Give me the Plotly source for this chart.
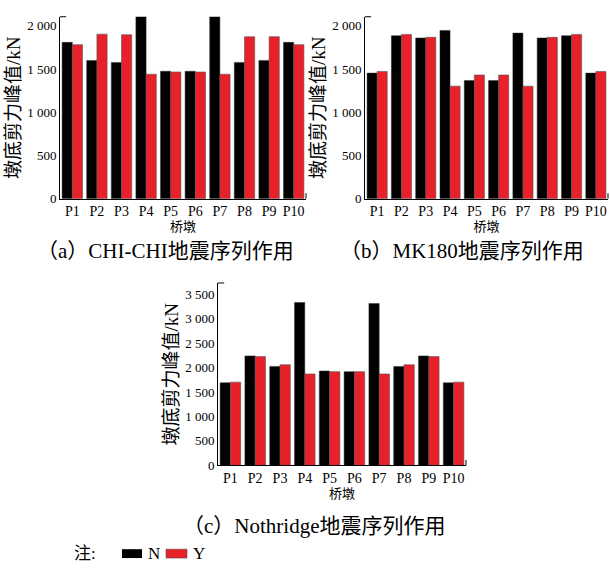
import plotly.graph_objects as go

piers = ["P1", "P2", "P3", "P4", "P5", "P6", "P7", "P8", "P9", "P10"]
series_names = ["N", "Y"]

# (a) CHI-CHI sequence (P4, P7 N bars run off the top of the axis)
chi_N = [1809, 1600, 1577, 2300, 1474, 1474, 2300, 1577, 1600, 1809]
chi_Y = [1782, 1904, 1897, 1440, 1466, 1466, 1440, 1874, 1874, 1782]
# (b) MK180 sequence
mk_N = [1453, 1886, 1860, 1947, 1366, 1366, 1916, 1860, 1886, 1453]
mk_Y = [1472, 1901, 1867, 1302, 1431, 1431, 1302, 1867, 1901, 1472]
# (c) Nothridge sequence
nor_N = [1689, 2239, 2024, 3331, 1930, 1917, 3311, 2024, 2239, 1689]
nor_Y = [1702, 2225, 2058, 1870, 1917, 1917, 1870, 2058, 2225, 1702]

ab_tickvals = [0, 500, 1000, 1500, 2000]
ab_ticktext = ["0", "500", "1 000", "1 500", "2 000"]
c_tickvals = [0, 500, 1000, 1500, 2000, 2500, 3000, 3500]
c_ticktext = ["0", "500", "1 000", "1 500", "2 000", "2 500", "3 000", "3 500"]

titles = ["（a）CHI-CHI地震序列作用", "（b）MK180地震序列作用", "（c）Nothridge地震序列作用"]
xlabel = "桥墩"
ylabel = "墩底剪力峰值/kN"
note = "注:"

FONT = "Liberation Serif, Noto Sans CJK SC, serif"
BLACK = "#000000"
RED = "#e8202a"
W, H = 610, 570

panels = [
    dict(N=chi_N, Y=chi_Y, xd=[60 / W, 306 / W], yd=[1 - 201.5 / H, 1 - 17 / H],
         rng=[0, 2105], tv=ab_tickvals, tt=ab_ticktext),
    dict(N=mk_N, Y=mk_Y, xd=[365 / W, 608 / W], yd=[1 - 201.5 / H, 1 - 17 / H],
         rng=[0, 2105], tv=ab_tickvals, tt=ab_ticktext),
    dict(N=nor_N, Y=nor_Y, xd=[218 / W, 466 / W], yd=[1 - 472 / H, 1 - 287 / H],
         rng=[0, 3730], tv=c_tickvals, tt=c_ticktext),
]

fig = go.Figure()
layout = {}
shapes = []
for i, p in enumerate(panels):
    sfx = "" if i == 0 else str(i + 1)
    xa, ya = "x" + sfx, "y" + sfx
    fig.add_trace(go.Bar(x=piers, y=p["N"], name=series_names[0], xaxis=xa, yaxis=ya,
                         marker=dict(color=BLACK, line=dict(color="#333", width=0.5))))
    fig.add_trace(go.Bar(x=piers, y=p["Y"], name=series_names[1], xaxis=xa, yaxis=ya,
                         marker=dict(color=RED, line=dict(color="#555", width=0.6))))
    layout["xaxis" + sfx] = dict(
        domain=p["xd"], anchor=ya, showline=True, linecolor=BLACK, linewidth=1,
        ticks="", showgrid=False, zeroline=False,
        tickfont=dict(family=FONT, size=14, color=BLACK),
        title=dict(text=xlabel, font=dict(family=FONT, size=13, color=BLACK), standoff=3),
    )
    layout["yaxis" + sfx] = dict(
        domain=p["yd"], anchor=xa, range=p["rng"], showline=True, linecolor=BLACK,
        linewidth=1, ticks="", showgrid=False, zeroline=False,
        tickvals=p["tv"], ticktext=p["tt"],
        tickfont=dict(family=FONT, size=13, color=BLACK),
        title=dict(text=ylabel, font=dict(family=FONT, size=19, color=BLACK), standoff=1),
    )
    # corner stubs of the frame
    shapes.append(dict(type="line", xref=xa + " domain", yref=ya + " domain",
                       x0=0, x1=0.025, y0=1, y1=1, line=dict(color=BLACK, width=1)))
    shapes.append(dict(type="line", xref=xa + " domain", yref=ya + " domain",
                       x0=1, x1=1, y0=0, y1=0.03, line=dict(color=BLACK, width=1)))

annotations = [
    dict(text=titles[0], x=165 / W, y=1 - 255 / H),
    dict(text=titles[1], x=462 / W, y=1 - 255 / H),
    dict(text=titles[2], x=314 / W, y=1 - 533 / H),
]
for a in annotations:
    a.update(xref="paper", yref="paper", showarrow=False, xanchor="center", yanchor="middle",
             font=dict(family=FONT, size=21, color=BLACK))

# legend (note line)
for txt, xc in [(note, 85), (series_names[0], 154), (series_names[1], 199)]:
    annotations.append(dict(text=txt, x=xc / W, y=1 - 561 / H, xref="paper", yref="paper",
                            xanchor="center", yanchor="middle", showarrow=False,
                            font=dict(family=FONT, size=17, color=BLACK)))
shapes.append(dict(type="rect", xref="paper", yref="paper", x0=122 / W, x1=142 / W,
                   y0=1 - 566 / H, y1=1 - 557 / H, fillcolor=BLACK, line=dict(width=0)))
shapes.append(dict(type="rect", xref="paper", yref="paper", x0=166 / W, x1=187 / W,
                   y0=1 - 566 / H, y1=1 - 557 / H, fillcolor=RED, line=dict(color="#555", width=0.6)))

fig.update_layout(
    width=W, height=H, margin=dict(l=0, r=0, t=0, b=0),
    barmode="group", bargap=0.17, bargroupgap=0,
    plot_bgcolor="white", paper_bgcolor="white", showlegend=False,
    font=dict(family=FONT, color=BLACK),
    annotations=annotations, shapes=shapes, **layout,
)

fig.write_html("out.html")
